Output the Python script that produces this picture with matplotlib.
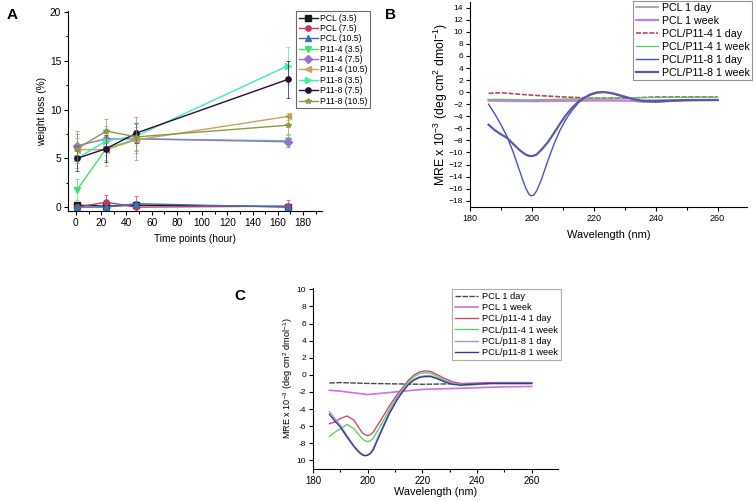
import matplotlib
matplotlib.use("Agg")
import matplotlib.pyplot as plt
import numpy as np
from matplotlib.ticker import MultipleLocator

plt.rcParams['font.family'] = ['Liberation Sans', 'DejaVu Sans']
plt.rcParams['mathtext.default'] = 'regular'

# ---- panel A: weight loss ----
time_h = [1, 24, 48, 168]
a_labels = ['PCL (3.5)', 'PCL (7.5)', 'PCL (10.5)', 'P11-4 (3.5)', 'P11-4 (7.5)',
            'P11-4 (10.5)', 'P11-8 (3.5)', 'P11-8 (7.5)', 'P11-8 (10.5)']
a_values = [
    [0.2, 0.1, 0.2, 0.05],
    [0.0, 0.5, 0.0, 0.1],
    [0.0, 0.0, 0.35, 0.0],
    [1.8, 6.0, 7.0, 6.8],
    [6.3, 7.0, 7.0, 6.7],
    [5.9, 5.9, 6.9, 9.3],
    [5.0, 6.8, 7.3, 14.5],
    [5.0, 6.0, 7.6, 13.1],
    [6.0, 7.8, 7.2, 8.4],
]
a_errors = [
    [0.3, 0.3, 0.3, 0.2],
    [0.3, 0.7, 1.1, 0.6],
    [0.2, 0.4, 0.3, 0.2],
    [1.1, 1.2, 1.5, 0.6],
    [1.5, 1.0, 2.2, 0.5],
    [1.2, 1.7, 1.0, 0.4],
    [1.0, 1.5, 0.9, 1.9],
    [1.3, 1.4, 1.0, 1.9],
    [1.5, 1.2, 1.4, 0.9],
]
a_colors = ['#1a1a1a', '#c8336a', '#3a6fb0', '#40e070', '#9b6fd0',
            '#c8a060', '#3cf0a8', '#2a0a40', '#8a9a40']
a_markers = ['s', 'o', '^', 'v', 'D', '<', '>', 'o', '*']

# ---- panel B: CD spectra ----
b_labels = ['PCL 1 day', 'PCL 1 week', 'PCL/P11-4 1 day', 'PCL/P11-4 1 week',
            'PCL/P11-8 1 day', 'PCL/P11-8 1 week']
b_wl_flat = [186, 190, 200, 210, 220, 230, 235, 240, 245, 250, 260]
b_pcl_day = [-1.3, -1.3, -1.4, -1.35, -1.3, -1.4, -1.6, -1.55, -1.5, -1.4, -1.3]
b_pcl_week = [-1.4, -1.45, -1.5, -1.45, -1.4, -1.4, -1.4, -1.4, -1.35, -1.35, -1.3]
b_p4_day = [-0.2, -0.1, -0.5, -0.8, -1.0, -1.0, -0.9, -0.8, -0.8, -0.8, -0.8]
b_p4_week = [-1.2, -1.2, -1.3, -1.15, -1.0, -0.95, -0.9, -0.9, -0.85, -0.85, -0.8]
b_wl_p8 = [186, 188, 190, 192, 194, 196, 197, 198, 199, 199.7, 200.5, 201.5, 203,
           205, 207, 209, 211, 213, 215, 217, 219, 221, 223, 225, 227, 229, 231, 233,
           236, 240, 250, 260]
b_p8_day = [-2.0, -3.6, -5.4, -7.4, -10.0, -13.0, -14.5, -15.9, -16.9, -17.2, -17.1,
            -16.4, -14.6, -11.6, -8.8, -6.4, -4.5, -3.0, -1.8, -0.9, -0.3, 0.0, 0.05,
            -0.1, -0.4, -0.7, -1.0, -1.2, -1.4, -1.4, -1.3, -1.3]
b_p8_week = [-5.4, -6.3, -7.0, -7.6, -8.6, -9.6, -10.0, -10.35, -10.55, -10.6, -10.55,
             -10.35, -9.6, -8.4, -6.9, -5.3, -3.8, -2.6, -1.6, -0.9, -0.4, -0.1, 0.0,
             -0.1, -0.3, -0.6, -0.9, -1.2, -1.5, -1.6, -1.3, -1.3]

# ---- panel C: CD spectra ----
c_labels = ['PCL 1 day', 'PCL 1 week', 'PCL/p11-4 1 day', 'PCL/p11-4 1 week',
            'PCL/p11-8 1 day', 'PCL/p11-8 1 week']
c_wl_flat = [186, 190, 200, 210, 220, 230, 240, 250, 260]
c_pcl_day = [-0.95, -0.9, -1.0, -1.05, -1.1, -1.05, -1.0, -1.0, -1.0]
c_pcl_week = [-1.8, -1.9, -2.3, -2.0, -1.7, -1.6, -1.5, -1.4, -1.35]
c_wl = [186, 188, 190, 192.5, 195, 197, 198, 199, 200, 201, 202, 205, 208, 211, 213,
        215, 217, 219, 221, 223, 225, 228, 231, 234, 238, 245, 252, 260]
c_p4_day = [-5.7, -5.5, -5.1, -4.8, -5.3, -6.3, -6.75, -7.0, -7.1, -7.0, -6.7, -5.2,
            -3.6, -2.2, -1.4, -0.6, 0.0, 0.35, 0.47, 0.4, 0.1, -0.4, -0.8, -1.0,
            -1.0, -0.9, -0.9, -0.9]
c_p4_week = [-7.2, -6.7, -6.3, -5.8, -6.3, -7.1, -7.45, -7.7, -7.8, -7.7, -7.4, -5.8,
             -4.0, -2.5, -1.6, -0.8, -0.2, 0.15, 0.25, 0.2, -0.1, -0.6, -1.0, -1.2,
             -1.2, -1.0, -1.0, -1.0]
c_p8_day = [-4.3, -5.1, -5.9, -7.1, -8.3, -9.0, -9.25, -9.4, -9.35, -9.1, -8.6, -6.4,
            -4.3, -2.6, -1.7, -1.0, -0.5, -0.2, -0.1, -0.1, -0.3, -0.7, -1.0, -1.1,
            -1.1, -1.0, -1.0, -1.0]
c_p8_week = [-4.6, -5.4, -6.1, -7.3, -8.4, -9.1, -9.35, -9.45, -9.4, -9.2, -8.8, -6.6,
             -4.5, -2.8, -1.9, -1.1, -0.6, -0.3, -0.2, -0.2, -0.4, -0.8, -1.1, -1.2,
             -1.1, -1.0, -1.0, -1.0]


def style_axes(ax, xsize, ysize):
    ax.spines['top'].set_visible(False)
    ax.spines['right'].set_visible(False)
    ax.tick_params(which='both', direction='out', width=0.8, pad=2)
    ax.tick_params(axis='x', labelsize=xsize)
    ax.tick_params(axis='y', labelsize=ysize)
    ax.tick_params(which='major', length=3)
    ax.tick_params(which='minor', length=1.8)


def boxed_legend(ax, anchor, size, edge, **kw):
    leg = ax.legend(loc='upper left', bbox_to_anchor=anchor, bbox_transform=fig.transFigure,
                    fontsize=size, frameon=True, fancybox=False, edgecolor=edge,
                    borderaxespad=0, **kw)
    leg.get_frame().set_linewidth(0.8)
    return leg


fig = plt.figure(figsize=(7.56, 5.01), dpi=100)

# A
axA = fig.add_axes([0.0899, 0.5788, 0.336, 0.399])
for vals, errs, col, mk, lab in zip(a_values, a_errors, a_colors, a_markers, a_labels):
    axA.errorbar(time_h, vals, yerr=errs, fmt='none', ecolor=col, elinewidth=0.6,
                 capsize=1.5, capthick=0.6, alpha=0.8)
    axA.plot(time_h, vals, color=col, marker=mk, markersize=3.8, linewidth=1.0, label=lab)
axA.set_xlim(-6.3, 195)
axA.set_ylim(-0.4, 20.1)
axA.set_xticks(np.arange(0, 181, 20))
axA.set_yticks([0, 5, 10, 15, 20])
axA.xaxis.set_minor_locator(MultipleLocator(10))
axA.yaxis.set_minor_locator(MultipleLocator(2.5))
style_axes(axA, 7.3, 7.3)
axA.set_xlabel('Time points (hour)', fontsize=7.3, labelpad=4)
axA.set_ylabel('weight loss (%)', fontsize=7.3, labelpad=2)
boxed_legend(axA, (0.3915, 0.978), 6.2, '#444444', labelspacing=0.16, handlelength=2.2,
             handletextpad=0.3, borderpad=0.3)

# B
axB = fig.add_axes([0.6217, 0.5868, 0.3664, 0.4086])
axB.plot(b_wl_flat, b_pcl_day, color='#9a9a9a', linewidth=1.2, label=b_labels[0])
axB.plot(b_wl_flat, b_pcl_week, color='#c77fe0', linewidth=1.6, label=b_labels[1])
axB.plot(b_wl_flat, b_p4_day, color='#c0406a', linewidth=1.2, linestyle=(0, (3, 1)),
         label=b_labels[2])
axB.plot(b_wl_flat, b_p4_week, color='#5ac85a', linewidth=0.9, label=b_labels[3])
axB.plot(b_wl_p8, b_p8_day, color='#4a50c8', linewidth=1.0, label=b_labels[4])
axB.plot(b_wl_p8, b_p8_week, color='#5a5aa8', linewidth=1.6, label=b_labels[5])
axB.set_xlim(180, 269.5)
axB.set_ylim(-19.05, 14.9)
axB.set_xticks(np.arange(180, 261, 20))
axB.set_yticks(np.arange(-18, 15, 2))
axB.xaxis.set_minor_locator(MultipleLocator(10))
style_axes(axB, 6.5, 6.0)
axB.set_xlabel('Wavelength (nm)', fontsize=7.9, labelpad=5)
axB.set_ylabel('MRE x 10$^{-3}$ (deg cm$^{2}$ dmol$^{-1}$)', fontsize=8.8, labelpad=-1)
boxed_legend(axB, (0.8373, 0.999), 7.7, '#777777', labelspacing=0.27, handlelength=2.1,
             handletextpad=0.35, borderpad=0.25)

# C
axC = fig.add_axes([0.414, 0.0639, 0.324, 0.362])
axC.plot(c_wl_flat, c_pcl_day, color='#404850', linewidth=1.0, linestyle=(0, (4, 1)),
         label=c_labels[0])
axC.plot(c_wl_flat, c_pcl_week, color='#d070e0', linewidth=1.2, label=c_labels[1])
axC.plot(c_wl, c_p4_day, color='#d04878', linewidth=1.0, label=c_labels[2])
axC.plot(c_wl, c_p4_week, color='#60d060', linewidth=1.0, label=c_labels[3])
axC.plot(c_wl, c_p8_day, color='#9a9ad0', linewidth=1.0, label=c_labels[4])
axC.plot(c_wl, c_p8_week, color='#3a3a90', linewidth=1.0, label=c_labels[5])
axC.set_xlim(180, 269.6)
axC.set_ylim(-11.0, 10.2)
axC.set_xticks(np.arange(180, 261, 20))
c_yticks = np.arange(-10, 11, 2)
axC.set_yticks(c_yticks)
axC.set_yticklabels(['10'] + [str(v) for v in c_yticks[1:]])
axC.xaxis.set_minor_locator(MultipleLocator(10))
style_axes(axC, 7.0, 6.0)
axC.set_xlabel('Wavelength (nm)', fontsize=7.8, labelpad=1)
axC.set_ylabel('MRE x 10$^{-3}$ (deg cm$^{2}$ dmol$^{-1}$)', fontsize=6.6, labelpad=1)
boxed_legend(axC, (0.598, 0.4232), 6.7, '#999999', labelspacing=0.25, handlelength=2.5,
             handletextpad=0.4, borderpad=0.3)

# panel letters
fig.text(0.016, 0.97, 'A', fontsize=11, fontweight='bold', ha='center', va='center')
fig.text(0.516, 0.97, 'B', fontsize=11, fontweight='bold', ha='center', va='center')
fig.text(0.317, 0.41, 'C', fontsize=11, fontweight='bold', ha='center', va='center')

fig.savefig('out.png', dpi=100)
